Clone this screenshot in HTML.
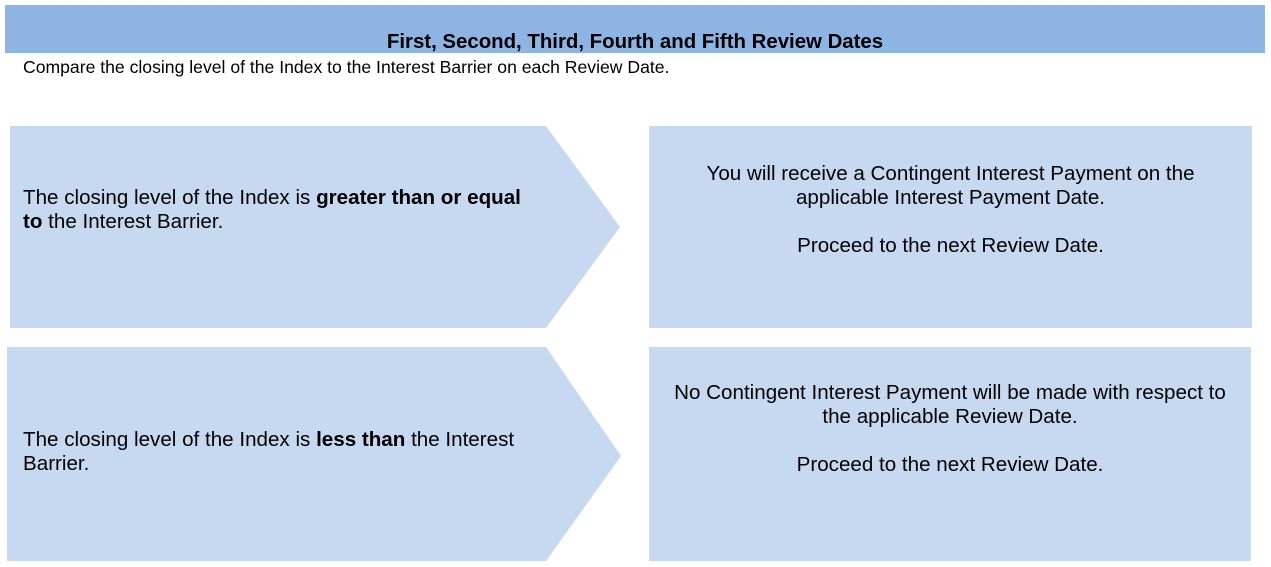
<!DOCTYPE html>
<html><head><style>
body{margin:0;width:1271px;height:567px;background:#fff;position:relative;font-family:"Liberation Sans",Arial,sans-serif;overflow:hidden}
.a{position:absolute}
.t{position:absolute;font-size:20.6px;line-height:24px;color:#000}
</style></head><body>
<div class="a" style="left:5px;top:5px;width:1260px;height:48px;background:#8eb4e3"></div>
<div class="a" style="left:5px;top:31px;width:1260px;text-align:center;font-weight:bold;font-size:20.4px;line-height:22px">First, Second, Third, Fourth and Fifth Review Dates</div>
<div class="a" style="left:23px;top:57px;font-size:17.6px;line-height:20px">Compare the closing level of the Index to the Interest Barrier on each Review Date.</div>
<svg class="a" style="left:0;top:0" width="1271" height="567">
<polygon points="10,126 546,126 620,227 546,328 10,328" fill="#c6d9f0"/>
<polygon points="7,347 546,347 621,456 546,561 7,561" fill="#c6d9f0"/>
<rect x="649" y="126" width="603" height="202" fill="#c6d9f0"/>
<rect x="649" y="347" width="602" height="214" fill="#c6d9f0"/>
</svg>
<div class="t" style="left:23px;top:186px;width:505px">The closing level of the Index is <b>greater than or equal to</b> the Interest Barrier.</div>
<div class="t" style="left:23px;top:428px;width:505px">The closing level of the Index is <b>less than</b> the Interest Barrier.</div>
<div class="t" style="left:649px;top:162px;width:603px;text-align:center">You will receive a Contingent Interest Payment on the<br>applicable Interest Payment Date.<br><br>Proceed to the next Review Date.</div>
<div class="t" style="left:649px;top:381px;width:602px;text-align:center">No Contingent Interest Payment will be made with respect to<br>the applicable Review Date.<br><br>Proceed to the next Review Date.</div>
</body></html>
